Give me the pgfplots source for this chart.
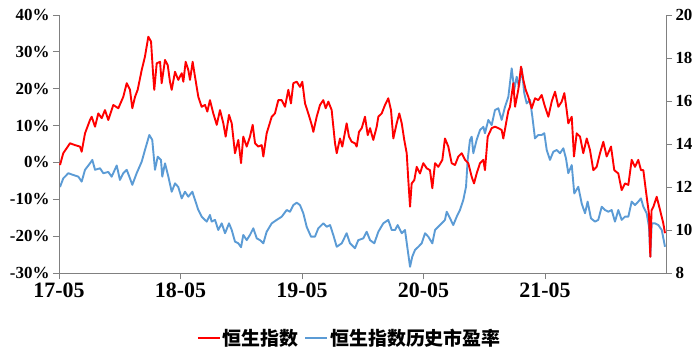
\documentclass[border=0pt]{standalone}
\usepackage{pgfplots}
\usepackage{pgfplotstable}
\pgfplotsset{compat=1.18}
\usepackage{fontspec}
\setmainfont{Liberation Serif}
\newfontfamily\cjk{Noto Sans CJK SC}
\definecolor{hsred}{HTML}{FF0000}
\definecolor{peblue}{HTML}{5B9BD5}
\definecolor{axgray}{HTML}{808080}

\pgfplotstableread{
x y
0.10 -0.7
0.42 2.5
1.09 5.2
1.58 4.7
2.07 4.3
2.24 2.9
2.57 7.9
3.06 11.5
3.23 12.4
3.56 9.7
3.88 13.3
4.22 12.0
4.54 14.2
4.87 11.5
5.36 15.6
5.86 14.7
6.35 17.8
6.69 21.5
7.01 19.7
7.24 14.7
7.51 17.8
7.77 19.7
8.17 25.1
8.49 28.7
8.82 34.1
9.09 32.8
9.31 23.3
9.41 19.7
9.65 26.9
9.98 27.3
10.14 21.5
10.47 27.8
10.74 26.4
10.96 21.9
11.13 19.7
11.46 24.6
11.78 22.4
12.12 24.2
12.28 21.9
12.51 27.3
12.77 25.1
12.94 22.4
13.20 27.3
13.43 23.3
13.76 17.8
14.09 15.1
14.42 15.6
14.65 13.8
14.91 16.9
15.24 13.3
15.58 10.2
15.90 14.2
16.23 10.6
16.46 7.0
16.79 12.9
17.06 10.6
17.38 2.5
17.71 6.1
17.98 -0.2
18.20 7.0
18.54 4.3
18.86 7.0
19.13 10.2
19.36 5.2
19.68 4.3
20.02 4.7
20.18 1.6
20.51 7.9
21.01 12.4
21.33 13.3
21.66 16.9
22.00 16.9
22.32 15.1
22.65 19.7
22.91 16.0
23.14 21.5
23.48 21.9
23.80 20.5
24.03 21.9
24.30 16.0
24.62 13.3
24.96 10.2
25.12 8.3
25.45 12.4
25.78 15.6
26.10 16.9
26.34 14.7
26.60 16.5
26.93 14.2
27.26 5.2
27.43 2.5
27.75 6.5
27.98 4.3
28.41 10.6
28.64 7.0
28.91 5.6
29.23 5.2
29.40 4.3
29.63 8.3
29.90 9.3
30.22 12.4
30.49 7.4
30.72 9.3
31.04 6.1
31.38 9.7
31.54 12.4
31.87 13.3
32.20 15.6
32.52 17.4
32.79 14.2
33.02 6.5
33.35 10.6
33.61 13.3
33.85 10.6
34.10 6.1
34.34 2.5
34.50 -4.8
34.67 -12.0
34.83 -5.7
35.09 -4.8
35.33 -1.2
35.65 -3.0
35.98 -0.2
36.32 -1.6
36.64 -2.1
36.87 -7.0
37.14 -0.2
37.46 -1.2
37.86 0.7
38.12 6.5
38.45 4.3
38.78 -0.2
39.11 -0.7
39.44 1.6
39.77 2.5
40.10 0.7
40.42 -0.2
40.76 -3.9
40.99 -5.7
41.25 -3.0
41.58 -0.2
41.91 0.7
42.07 -2.1
42.34 7.0
42.73 9.3
43.06 9.7
43.39 9.3
43.72 8.8
43.88 6.5
44.05 9.0
44.21 11.5
44.38 14.0
44.54 15.1
44.87 21.5
45.04 15.1
45.36 19.7
45.63 26.0
45.86 22.4
46.09 19.7
46.35 17.8
46.69 14.7
47.01 17.4
47.34 16.9
47.67 18.3
48.00 15.1
48.33 12.4
48.66 16.5
48.99 19.2
49.32 15.1
49.65 16.5
49.91 18.8
50.14 14.2
50.30 10.6
50.64 12.4
50.86 1.6
51.13 7.9
51.46 7.0
51.78 2.5
52.12 6.5
52.44 3.4
52.77 -2.1
53.10 -1.2
53.43 2.5
53.76 5.6
54.09 1.6
54.52 4.3
54.84 -2.1
55.24 -3.0
55.57 -7.5
55.90 -5.7
56.23 -6.1
56.56 0.7
56.89 -1.2
57.21 0.7
57.48 -2.1
57.71 -2.1
58.04 -9.3
58.27 -14.0
58.40 -25.6
58.52 -13.0
58.71 -12.0
59.03 -9.3
59.36 -12.9
59.68 -16.5
59.85 -19.2
}\redtab

\pgfplotstableread{
x y
0.10 12.0
0.42 12.4
0.92 12.64
1.41 12.56
1.91 12.48
2.24 12.25
2.57 12.8
3.06 13.1
3.29 13.26
3.56 12.8
4.05 12.87
4.38 12.64
4.87 12.7
5.20 12.48
5.70 13.0
6.02 12.33
6.35 12.64
6.69 12.8
7.01 12.4
7.24 12.1
7.67 12.64
8.17 13.18
8.49 13.72
8.92 14.42
9.21 14.19
9.48 12.8
9.75 13.41
10.07 13.26
10.20 12.48
10.47 13.1
10.80 12.48
11.13 11.78
11.46 12.17
11.78 12.0
12.12 11.47
12.44 11.78
12.77 11.55
13.17 11.78
13.43 11.4
13.76 10.93
14.09 10.62
14.59 10.39
14.91 10.7
15.08 10.39
15.41 10.47
15.73 10.0
16.07 10.31
16.40 9.85
16.79 10.31
17.06 10.0
17.38 9.46
17.71 9.38
17.98 9.2
18.20 9.77
18.54 9.53
18.86 9.77
19.19 10.08
19.53 9.61
19.85 9.53
20.18 9.38
20.51 9.92
21.01 10.31
21.50 10.47
22.00 10.62
22.49 10.93
22.81 10.85
23.14 11.16
23.48 11.27
23.80 11.16
24.13 10.78
24.46 10.15
24.89 9.69
25.28 9.69
25.61 10.08
26.10 10.31
26.44 10.15
26.77 10.23
27.09 9.77
27.43 9.22
27.92 9.38
28.41 9.85
28.74 9.38
29.23 9.15
29.56 9.53
30.05 9.61
30.39 9.92
30.72 9.53
31.14 9.38
31.54 9.92
32.03 10.31
32.52 10.47
32.86 10.0
33.19 10.0
33.45 10.23
33.85 9.85
34.17 10.0
34.44 9.07
34.67 8.29
34.89 8.76
35.16 9.07
35.49 9.22
35.82 9.38
36.15 9.85
36.47 9.69
36.87 9.38
37.14 10.0
37.46 10.15
37.80 10.31
38.12 10.47
38.29 10.85
38.62 10.54
38.94 10.23
39.28 10.62
39.60 10.93
39.93 11.4
40.20 12.01
40.36 13.26
40.59 14.19
40.76 14.34
40.92 13.57
41.25 14.19
41.58 14.65
41.91 14.8
42.07 14.5
42.40 15.12
42.73 14.88
43.06 15.58
43.39 15.66
43.72 15.12
44.05 15.73
44.38 16.2
44.71 17.52
44.96 16.51
45.20 17.13
45.43 16.67
45.70 17.52
45.95 16.36
46.19 15.89
46.52 16.05
46.75 15.27
47.01 14.26
47.34 14.42
47.67 14.42
47.93 14.5
48.17 13.72
48.49 13.26
48.82 13.64
49.16 13.72
49.48 13.57
49.81 13.8
50.07 13.33
50.30 12.64
50.64 13.02
50.89 11.7
51.29 12.01
51.62 11.24
51.95 10.78
52.21 11.32
52.54 10.54
52.94 10.39
53.26 10.47
53.60 11.08
53.93 10.93
54.25 10.85
54.58 10.93
54.91 10.39
55.24 10.93
55.57 10.47
55.90 10.62
56.23 10.62
56.56 11.32
56.89 11.16
57.21 11.32
57.48 11.47
57.71 11.08
58.04 10.78
58.27 10.15
58.40 8.76
58.54 10.31
58.86 10.31
59.19 10.23
59.53 10.0
59.85 9.22
}\petab

\begin{document}
\begin{tikzpicture}
\path[use as bounding box] (-59bp,-80bp) rectangle (641bp,273bp);
\begin{axis}[
  scale only axis, width=607bp, height=258bp,
  xmin=0, xmax=59.95, ymin=8, ymax=20,
  axis x line=none, axis y line*=right,
  ytick={8,10,12,14,16,18,20},
  yticklabels={8,10,12,14,16,18,20},
  tick align=outside, major tick length=6bp,
  axis line style={draw=axgray, line width=0.8pt},
  every tick/.style={draw=axgray, line width=0.8pt},
  yticklabel style={font=\bfseries\fontsize{17}{19}\selectfont, text=black},
]
\addplot[peblue, line width=1.9pt, line join=round] table {\petab};
\end{axis}
\begin{axis}[
  scale only axis, width=607bp, height=258bp,
  xmin=0, xmax=59.95, ymin=-30, ymax=40,
  axis x line*=bottom, axis y line*=left,
  xtick={0,12,24,36,48},
  xticklabels={17-05,18-05,19-05,20-05,21-05},
  ytick={-30,-20,-10,0,10,20,30,40},
  yticklabels={-30\%,-20\%,-10\%,0\%,10\%,20\%,30\%,40\%},
  tick align=outside, major tick length=6bp,
  axis line style={draw=axgray, line width=0.8pt},
  every tick/.style={draw=axgray, line width=0.8pt},
  yticklabel style={font=\bfseries\fontsize{17}{19}\selectfont, text=black},
  xticklabel style={font=\bfseries\fontsize{22}{24}\selectfont, text=black},
  legend style={at={(0.479,-0.252)}, anchor=center, draw=none, fill=none,
    legend columns=-1, font=\cjk\bfseries\fontsize{19}{22}\selectfont,
    /tikz/every even column/.append style={column sep=4bp}},
  legend image code/.code={\draw[#1] (0bp,0bp) -- (22bp,0bp);},
]
\addplot[hsred, line width=1.9pt, line join=round] table {\redtab};
\addlegendentry{恒生指数}
\addlegendimage{peblue, line width=1.9pt}
\addlegendentry{恒生指数历史市盈率}
\end{axis}
\end{tikzpicture}
\end{document}
